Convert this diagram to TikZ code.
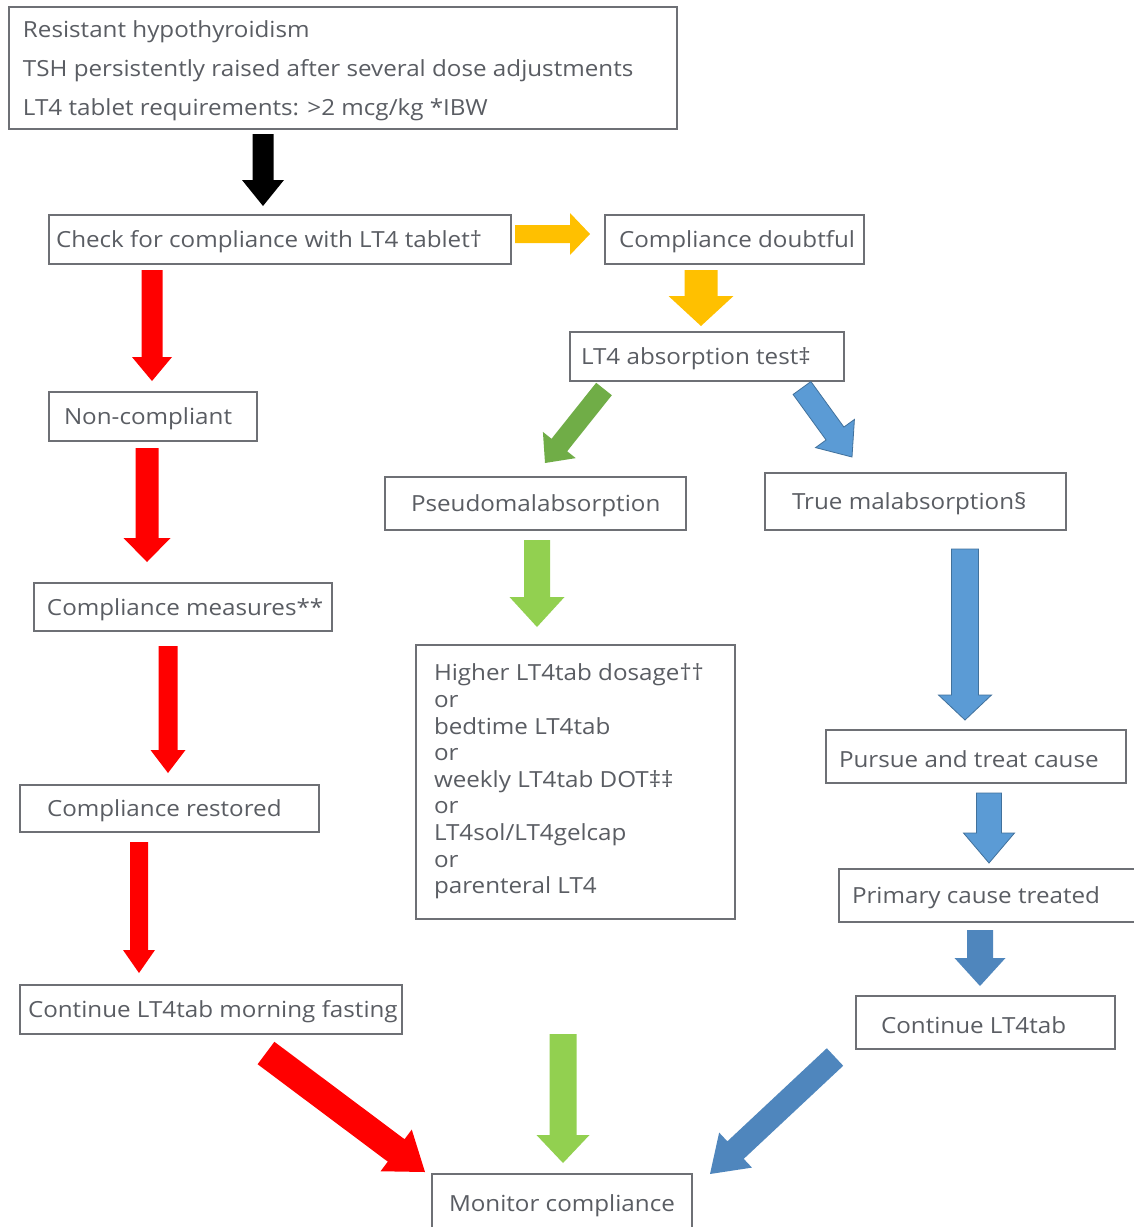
\documentclass[tikz,border=0pt]{standalone}
\usepackage{fontspec}
\setmainfont[FakeStretch=1.09]{Open Sans}
\usetikzlibrary{calc}
\definecolor{boxc}{HTML}{6E7075}
\definecolor{txtc}{HTML}{5A5D63}
\definecolor{redA}{HTML}{FF0000}
\definecolor{orgA}{HTML}{FFC000}
\definecolor{grnD}{HTML}{70AD47}
\definecolor{grnL}{HTML}{92D050}
\definecolor{bluA}{HTML}{5B9BD5}
\definecolor{bluB}{HTML}{4F86BD}
\definecolor{bluO}{HTML}{41719C}
\newcommand\bxt[3]{\makebox[#1pt][l]{\hspace{#2pt}#3}}
\newcommand\bxs[3]{\makebox[#1pt][l]{\hspace{#2pt}\raisebox{-2.5pt}[\height][\depth]{#3}}}
\newcommand\barrow[6]{%
  \coordinate (bH) at ($(#3)!#6pt!(#2)$);
  \path[#1] ($(#2)!#4pt!90:(#3)$) -- ($(bH)!#4pt!90:(#3)$) -- ($(bH)!#5pt!90:(#3)$) -- (#3)
    -- ($(bH)!#5pt!-90:(#3)$) -- ($(bH)!#4pt!-90:(#3)$) -- ($(#2)!#4pt!-90:(#3)$) -- cycle;
}
\tikzset{
  box/.style={draw=boxc, line width=2pt, fill=white, text=txtc, anchor=north west, inner sep=0pt,
    font=\fontsize{22.2}{26}\selectfont},
  fr/.style={fill=redA},
  fo/.style={fill=orgA},
  fgd/.style={fill=grnD},
  fgl/.style={fill=grnL},
  fb/.style={fill=bluA, draw=bluO, line width=0.8pt},
  fbb/.style={fill=bluB},
}
\begin{document}
\begin{tikzpicture}[x=1pt,y=-1pt]
\useasboundingbox[fill=white] (0,0) rectangle (1134,1227);
% boxes
\node[box, minimum height=122pt, font=\fontsize{22.2}{39}\selectfont] (top) at (8,6)
  {\bxt{668}{14}{\raisebox{-1pt}[\height][\depth]{\begin{tabular}{@{}l@{}}Resistant hypothyroidism\\TSH persistently raised after several dose adjustments\\LT4 tablet requirements: >2 mcg/kg *IBW\end{tabular}}}};
\node[box, minimum height=49pt] (check) at (48,214) {\bxs{462}{7}{Check for compliance with LT4 tablet†}};
\node[box, minimum height=49pt] (doubt) at (604,214) {\bxs{259}{14}{Compliance doubtful}};
\node[box, minimum height=49pt] (abs) at (569,331) {\bxs{274}{11}{LT4 absorption test‡}};
\node[box, minimum height=49pt] (nonc) at (48,391) {\bxs{208}{15}{Non-compliant}};
\node[box, minimum height=53pt] (pseudo) at (384,476) {\bxs{301}{26}{Pseudomalabsorption}};
\node[box, minimum height=57pt] (truem) at (764,472) {\bxs{301}{27}{True malabsorption§}};
\node[box, minimum height=48pt] (meas) at (33,582) {\bxs{298}{13}{Compliance measures**}};
\node[box, minimum height=274pt, font=\fontsize{22.2}{26.6}\selectfont] (higher) at (415,644)
  {\bxt{319}{18}{\begin{tabular}{@{}l@{}}Higher LT4tab dosage††\\or\\bedtime LT4tab\\or\\weekly LT4tab DOT‡‡\\or\\LT4sol/LT4gelcap\\or\\parenteral LT4\end{tabular}}};
\node[box, minimum height=53pt] (pursue) at (825,729) {\bxs{300}{13}{Pursue and treat cause}};
\node[box, minimum height=47pt] (restored) at (19,784) {\bxs{299}{27}{Compliance restored}};
\node[box, minimum height=53pt] (primary) at (838,868) {\bxs{320}{13}{Primary cause treated}};
\node[box, minimum height=53pt] (cont) at (855,995) {\bxs{259}{25}{Continue LT4tab}};
\node[box, minimum height=49pt] (morning) at (19,984) {\bxs{382}{8}{Continue LT4tab morning fasting}};
\node[box, minimum height=58pt] (monitor) at (431,1173) {\bxs{260}{17}{Monitor compliance}};
% arrow end points
\coordinate (k1s) at (263,134);  \coordinate (k1e) at (263,206);
\coordinate (o1s) at (515,234);  \coordinate (o1e) at (590,234);
\coordinate (o2s) at (701,270);  \coordinate (o2e) at (701,326);
\coordinate (r1s) at (152,270);  \coordinate (r1e) at (152,381);
\coordinate (r2s) at (147,448);  \coordinate (r2e) at (147,562);
\coordinate (r3s) at (168,646);  \coordinate (r3e) at (168,773);
\coordinate (r4s) at (139,842);  \coordinate (r4e) at (139,973);
\coordinate (g1s) at (604,389);  \coordinate (g1e) at (545,463);
\coordinate (b1s) at (802,388);  \coordinate (b1e) at (852,457);
\coordinate (g2s) at (537,540);  \coordinate (g2e) at (537,627);
\coordinate (b2s) at (965,549);  \coordinate (b2e) at (965,720);
\coordinate (b3s) at (989,793);  \coordinate (b3e) at (989,863);
\coordinate (b4s) at (980,930);  \coordinate (b4e) at (980,986);
\coordinate (r5s) at (266,1053); \coordinate (r5e) at (425,1172);
\coordinate (g3s) at (563,1034); \coordinate (g3e) at (563,1163);
\coordinate (b5s) at (835,1057); \coordinate (b5e) at (710,1174);
% arrows
\barrow{fill=black}{k1s}{k1e}{10.5}{21}{26}
\barrow{fo}{o1s}{o1e}{9}{21}{20}
\barrow{fo}{o2s}{o2e}{16.5}{32.5}{30}
\barrow{fr}{r1s}{r1e}{10.5}{20}{24}
\barrow{fr}{r2s}{r2e}{11.5}{23.5}{24}
\barrow{fr}{r3s}{r3e}{9.5}{17.5}{23}
\barrow{fr}{r4s}{r4e}{9}{16}{23}
\barrow{fgd}{g1s}{g1e}{10}{21}{23}
\barrow{fb}{b1s}{b1e}{11}{24}{29}
\barrow{fgl}{g2s}{g2e}{13}{27.5}{30}
\barrow{fb}{b2s}{b2e}{13.5}{26.5}{25}
\barrow{fb}{b3s}{b3e}{12.5}{25.5}{30}
\barrow{fbb}{b4s}{b4e}{13}{25.5}{28}
\barrow{fr}{r5s}{r5e}{14}{26}{36}
\barrow{fgl}{g3s}{g3e}{13.5}{26.5}{28}
\barrow{fbb}{b5s}{b5e}{12}{24}{35}
\end{tikzpicture}
\end{document}
